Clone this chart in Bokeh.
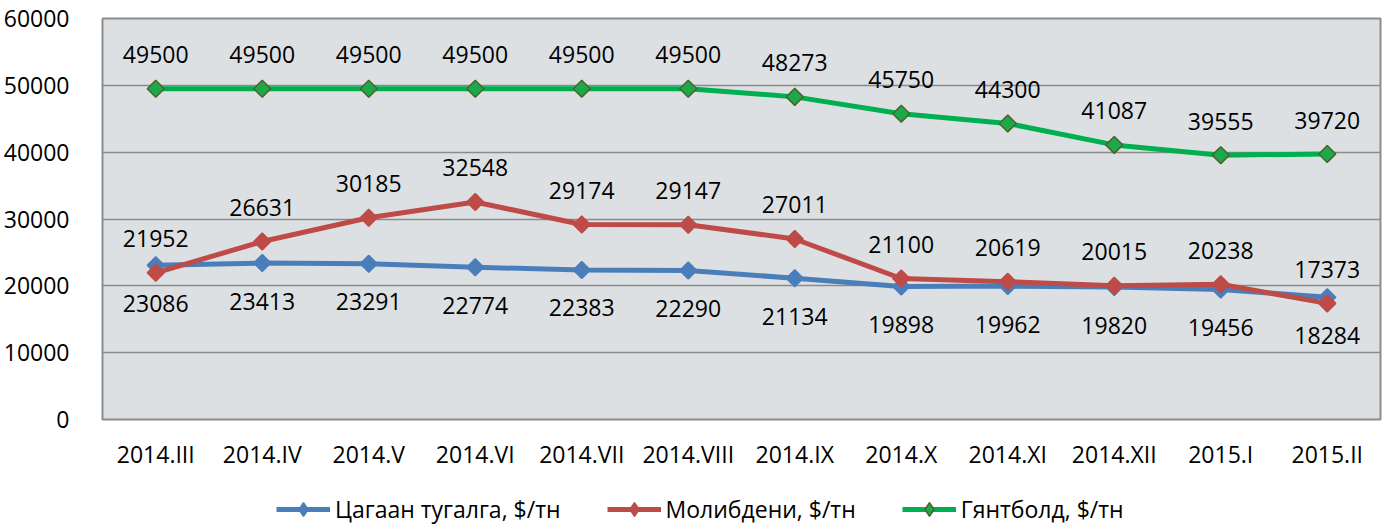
from bokeh.plotting import figure
from bokeh.layouts import column
from bokeh.models import ColumnDataSource, Legend, LegendItem, FixedTicker
from bokeh.core.properties import value
from bokeh.embed import file_html
from bokeh.resources import INLINE

categories = ["2014.III", "2014.IV", "2014.V", "2014.VI", "2014.VII", "2014.VIII",
              "2014.IX", "2014.X", "2014.XI", "2014.XII", "2015.I", "2015.II"]
tin = [23086, 23413, 23291, 22774, 22383, 22290, 21134, 19898, 19962, 19820, 19456, 18284]
molybdenum = [21952, 26631, 30185, 32548, 29174, 29147, 27011, 21100, 20619, 20015, 20238, 17373]
tungsten = [49500, 49500, 49500, 49500, 49500, 49500, 48273, 45750, 44300, 41087, 39555, 39720]
series_names = ["Цагаан тугалга, $/тн", "Молибдени, $/тн", "Гянтболд, $/тн"]
y_ticks = [0, 10000, 20000, 30000, 40000, 50000, 60000]

FONT = "Open Sans"
FS = "23px"
W = 1382

p = figure(x_range=categories, y_range=(0, 60000), width=W, height=478,
           output_backend="svg", toolbar_location=None,
           min_border_left=102, min_border_right=2, min_border_top=18, min_border_bottom=59)

p.background_fill_color = "#dce0e3"
p.border_fill_color = "white"
p.outline_line_color = "#8c8c8c"
p.outline_line_width = 2

p.xgrid.grid_line_color = None
p.ygrid.grid_line_color = "#8a8a8a"
p.ygrid.grid_line_width = 1.5
p.yaxis.ticker = FixedTicker(ticks=y_ticks)

for ax in (p.xaxis[0], p.yaxis[0]):
    ax.axis_line_color = None
    ax.major_tick_line_color = None
    ax.minor_tick_line_color = None
    ax.major_label_text_font = FONT
    ax.major_label_text_font_size = FS
    ax.major_label_text_color = "black"
p.yaxis.major_label_standoff = 27
p.xaxis.major_label_standoff = 12
p.yaxis.formatter.use_scientific = False

src = ColumnDataSource(dict(
    x=categories, tin=tin, mo=molybdenum, w=tungsten,
    tin_t=[str(v) for v in tin], mo_t=[str(v) for v in molybdenum], w_t=[str(v) for v in tungsten],
))

specs = [
    ("tin", "#4a7ebb", "#4a7ebb", "#4a7ebb", "tin_t", 38),
    ("mo", "#be4b48", "#be4b48", "#be4b48", "mo_t", -34),
    ("w", "#00b050", "#1ba94c", "#4f6228", "w_t", -34),
]

# legend strip below the chart (its own y range keeps the series out of view)
pl = figure(width=W, height=48, x_range=categories, y_range=(-2, -1),
            output_backend="svg", toolbar_location=None,
            x_axis_location=None, y_axis_location=None, min_border=0)
pl.grid.grid_line_color = None
pl.outline_line_color = None
pl.background_fill_color = "white"

items = []
for (col, lc, fc, oc, tcol, yoff), name in zip(specs, series_names):
    p.line("x", col, source=src, line_color=lc, line_width=5)
    p.scatter("x", col, source=src, marker="square", angle=0.785398, size=12,
              fill_color=fc, line_color=oc, line_width=1.5)
    p.text("x", col, text=tcol, source=src, y_offset=yoff, text_align="center",
           text_baseline="middle", text_font=value(FONT), text_font_size=FS,
           text_color="black")
    ln = pl.line("x", col, source=src, line_color=lc, line_width=5)
    sc = pl.scatter("x", col, source=src, marker="diamond", size=19,
                    fill_color=fc, line_color=oc, line_width=1.5)
    items.append(LegendItem(label=name, renderers=[ln, sc]))

legend = Legend(items=items, orientation="horizontal", location=(174, 0),
                glyph_width=54, glyph_height=34, label_standoff=5, spacing=46,
                padding=0, margin=0, border_line_color=None, background_fill_alpha=0,
                label_text_font=FONT, label_text_font_size=FS, label_text_color="black")
pl.add_layout(legend, "center")

layout = column(p, pl, spacing=0)
open("out.html", "w").write(file_html(layout, INLINE))
